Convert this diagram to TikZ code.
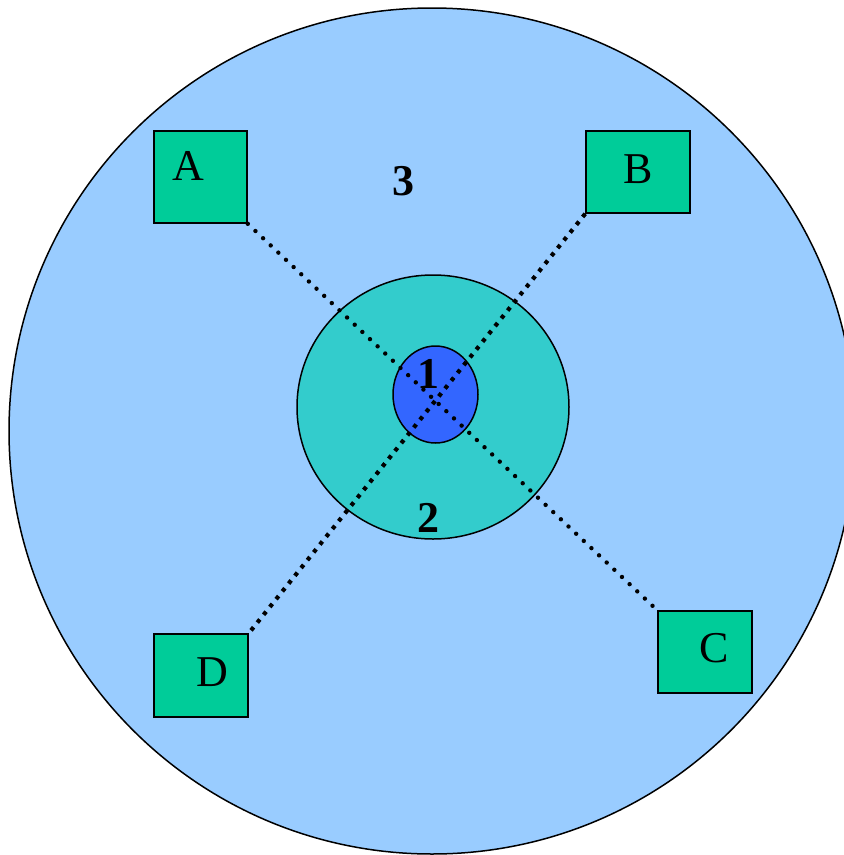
\documentclass[tikz,border=0pt]{standalone}
\usepackage{fontspec}
\setmainfont{Liberation Serif}
\usepackage{tikz}
\usetikzlibrary{positioning,calc}
\definecolor{zonefar}{HTML}{99CCFF}
\definecolor{zonemid}{HTML}{33CCCC}
\definecolor{zonecore}{HTML}{3366FF}
\definecolor{stationfill}{HTML}{00CC99}
\tikzstyle{station} = [draw=black, line width=1.6pt, fill=stationfill, rectangle, inner sep=0pt]
\tikzstyle{zone} = [draw=black, line width=1.5pt]
\tikzstyle{linkround} = [line width=4.4pt, line cap=round, dash pattern=on 0pt off 10.5pt]
\tikzstyle{linksquare} = [line width=4.2pt, dash pattern=on 4pt off 6pt]

\begin{document}
\begin{tikzpicture}[x=1pt,y=-1pt,font=\fontsize{44}{48}\selectfont]
\useasboundingbox (0,0) rectangle (844,855);
\clip (0,0) rectangle (844,855);
% zones
\draw[zone, fill=zonefar] (432,431) circle (423);
\draw[zone, fill=zonemid] (433,407) ellipse (136 and 132);
\draw[zone, fill=zonecore] (435.5,394.5) ellipse (42.5 and 48.5);
\node at (403,181) (z3) {\textbf{3}};
\node at (428,518) (z2) {\textbf{2}};
\node at (428,374) (z1) {\textbf{1}};
% stations
\node[station, minimum width=93pt, minimum height=92pt] at (200.5,177) (sA) {};
\node[station, minimum width=104pt, minimum height=82pt] at (638,172) (sB) {};
\node[station, minimum width=94pt, minimum height=82pt] at (705,652) (sC) {};
\node[station, minimum width=94pt, minimum height=83pt] at (201,675.5) (sD) {};
\draw[linkround] (sA.south east) -- (sC.north west);
\draw[linksquare] (sB.south west) -- (sD.north east);
\node at (188,166) (tA) {A};
\node at (638,169) (tB) {B};
\node at (714,648) (tC) {C};
\node at (212,672) (tD) {D};
\end{tikzpicture}
\end{document}
